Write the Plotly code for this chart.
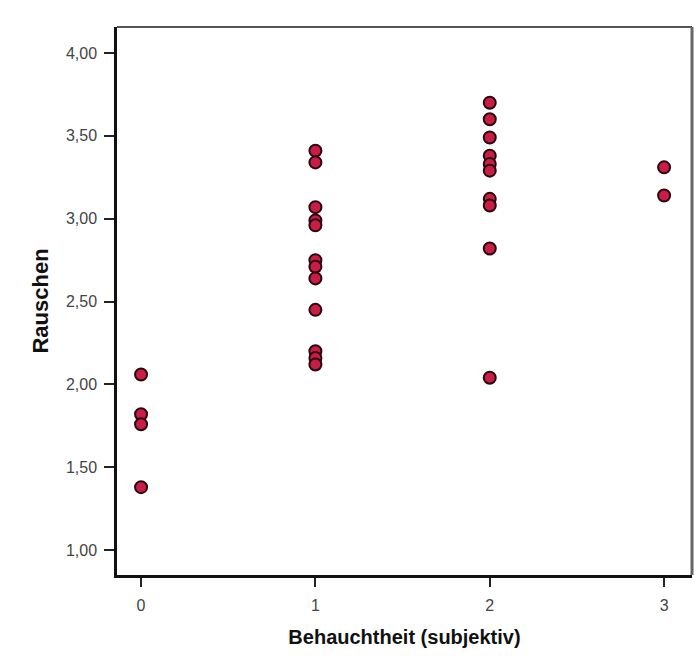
import plotly.graph_objects as go

# Data
behauchtheit = [0, 0, 0, 0,
                1, 1, 1, 1, 1, 1, 1, 1, 1, 1, 1, 1,
                2, 2, 2, 2, 2, 2, 2, 2, 2, 2,
                3, 3]
rauschen = [2.06, 1.82, 1.76, 1.38,
            3.41, 3.34, 3.07, 2.99, 2.75, 2.71, 2.64, 2.45, 2.20, 2.16, 2.12, 2.96,
            3.70, 3.60, 3.49, 3.38, 3.33, 3.29, 3.12, 3.08, 2.82, 2.04,
            3.31, 3.14]
x_ticks = [0, 1, 2, 3]
y_ticks = [1.0, 1.5, 2.0, 2.5, 3.0, 3.5, 4.0]

fig = go.Figure()
fig.add_trace(go.Scatter(
    x=behauchtheit, y=rauschen, mode="markers",
    marker=dict(size=12, color="#c81d44", line=dict(color="#2a060e", width=2)),
    showlegend=False, cliponaxis=False,
))

font = "Liberation Sans, Arial, sans-serif"
fig.update_layout(
    width=696, height=671,
    margin=dict(l=117, r=4, t=27, b=96),
    paper_bgcolor="white", plot_bgcolor="white",
    separators=",.",
    font=dict(family=font, color="#333"),
    xaxis=dict(
        range=[-0.138, 3.16], tickvals=x_ticks, ticks="outside", ticklen=9,
        tickwidth=2, tickcolor="#222", showline=True, linecolor="#111", linewidth=2.5,
        showgrid=False, zeroline=False, tickfont=dict(size=16, color="#444"),
        ticklabelstandoff=5,
        title=dict(text="Behauchtheit (subjektiv)", standoff=18,
                   font=dict(size=20, color="#111", family=font, weight="bold")),
    ),
    yaxis=dict(
        range=[0.85, 4.157], tickvals=y_ticks, tickformat=".2f", ticks="outside",
        ticklen=10, tickwidth=2, tickcolor="#222", showline=True, linecolor="#111",
        linewidth=2.5, showgrid=False, zeroline=False,
        tickfont=dict(size=16, color="#444"), ticklabelstandoff=4,
        title=dict(text="Rauschen", standoff=12,
                   font=dict(size=22, color="#111", family=font, weight="bold")),
    ),
    shapes=[
        dict(type="line", xref="paper", yref="paper", x0=0, x1=1, y0=1, y1=1,
             line=dict(color="#555", width=2)),
        dict(type="line", xref="paper", yref="paper", x0=1, x1=1, y0=0, y1=1,
             line=dict(color="#666", width=3)),
    ],
)

fig.write_html("out.html")
